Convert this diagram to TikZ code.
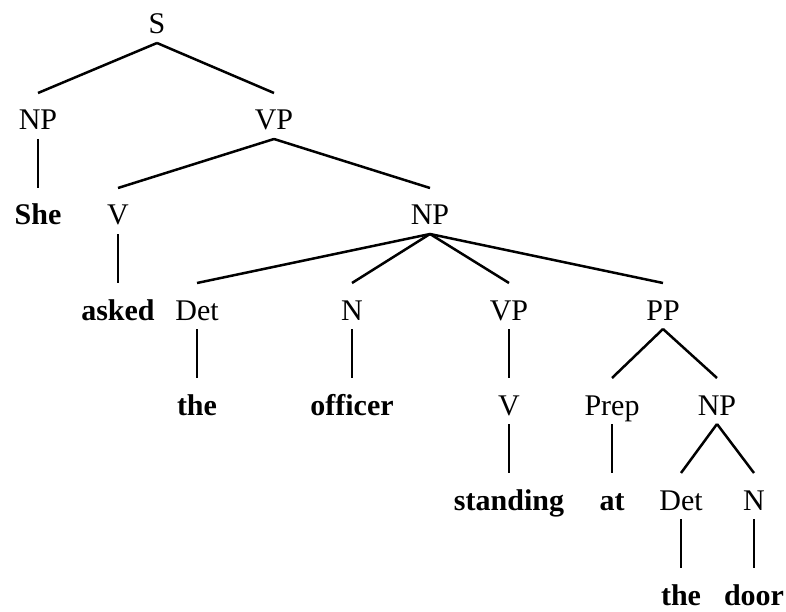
\documentclass[tikz,border=0pt]{standalone}
\usepackage{fontspec}
\setmainfont{Liberation Serif}
\begin{document}
\begin{tikzpicture}[x=1pt,y=1pt,
  lbl/.style={anchor=base,inner sep=0pt,font=\fontsize{30}{36}\selectfont},
  wrd/.style={lbl,font=\fontsize{30}{36}\selectfont\bfseries},
  edge/.style={line width=2.5pt}]
\useasboundingbox (0,0) rectangle (786,-612);
% level baselines: 34,130,225,320,415,510,605
\node[lbl] (S)    at (157,-34) {S};
\node[lbl] (NPa)  at (38,-130) {NP};
\node[lbl] (VPa)  at (274,-130) {VP};
\node[wrd] (She)  at (38,-225) {She};
\node[lbl] (Va)   at (118,-225) {V};
\node[lbl] (NPb)  at (430,-225) {NP};
\node[wrd] (asked) at (118,-320) {asked};
\node[lbl] (Deta) at (197,-320) {Det};
\node[lbl] (Na)   at (352,-320) {N};
\node[lbl] (VPb)  at (509,-320) {VP};
\node[lbl] (PP)   at (663,-320) {PP};
\node[wrd] (thea) at (197,-415) {the};
\node[wrd] (officer) at (352,-415) {officer};
\node[lbl] (Vb)   at (509,-415) {V};
\node[lbl] (Prep) at (612,-415) {Prep};
\node[lbl] (NPc)  at (717,-415) {NP};
\node[wrd] (standing) at (509,-510) {standing};
\node[wrd] (at)   at (612,-510) {at};
\node[lbl] (Detb) at (681,-510) {Det};
\node[lbl] (Nb)   at (754,-510) {N};
\node[wrd] (theb) at (681,-605) {the};
\node[wrd] (door) at (754,-605) {door};
\newcommand{\br}[2]{\draw[edge] ([yshift=-9pt]#1.base) -- ([yshift=37pt]#2.base);}
\br{S}{NPa}
\br{S}{VPa}
\br{NPa}{She}
\br{VPa}{Va}
\br{VPa}{NPb}
\br{Va}{asked}
\br{NPb}{Deta}
\br{NPb}{Na}
\br{NPb}{VPb}
\br{NPb}{PP}
\br{Deta}{thea}
\br{Na}{officer}
\br{VPb}{Vb}
\br{PP}{Prep}
\br{PP}{NPc}
\br{Vb}{standing}
\br{Prep}{at}
\br{NPc}{Detb}
\br{NPc}{Nb}
\br{Detb}{theb}
\br{Nb}{door}
\end{tikzpicture}
\end{document}
